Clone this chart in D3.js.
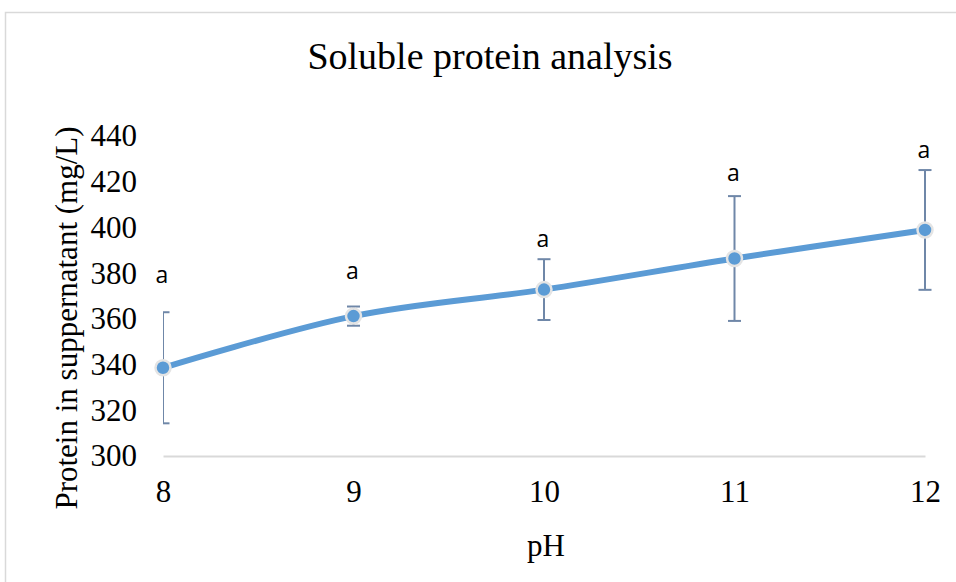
<!DOCTYPE html>
<html>
<head>
<meta charset="utf-8">
<script src="https://cdn.jsdelivr.net/npm/d3@7"></script>
<style>
  body { margin: 0; background: #fff; }
</style>
</head>
<body>
<script>
var w = 956;
var h = 582;

// values
var phValues = [8, 9, 10, 11, 12];
var proteinMeans = [338.6, 361.2, 372.8, 386.4, 398.9];
var proteinErrors = [24.3, 4.2, 13.3, 27.3, 26.2];
var groupLetters = ["a", "a", "a", "a", "a"];
var letterLevels = [375.7, 377.3, 391.3, 420.4, 430.2];
var yTicks = [300, 320, 340, 360, 380, 400, 420, 440];

var data = phValues.map(function (p, i) {
  return { ph: p, mean: proteinMeans[i], err: proteinErrors[i], letter: groupLetters[i], lev: letterLevels[i] };
});

var plot = { left: 163, right: 925, top: 136, bottom: 456 };

var x = d3.scaleLinear().domain([8, 12]).range([plot.left, plot.right]);
var y = d3.scaleLinear().domain([300, 440]).range([plot.bottom, plot.top]);

var svg = d3.select("body").append("svg")
  .attr("width", w)
  .attr("height", h);

// chart border
svg.append("rect")
  .attr("x", 5.5).attr("y", 12.5)
  .attr("width", 1000).attr("height", 1000)
  .attr("fill", "none")
  .attr("stroke", "#d9d9d9")
  .attr("stroke-width", 1.5);

svg.append("defs").append("clipPath").attr("id", "plotclip")
  .append("rect")
  .attr("x", plot.left).attr("y", 0)
  .attr("width", plot.right - plot.left + 40).attr("height", h);

// title
svg.append("text")
  .attr("x", 490).attr("y", 69)
  .attr("text-anchor", "middle")
  .style("font-family", "'Liberation Serif', 'Times New Roman', serif")
  .style("font-size", "38px")
  .text("Soluble protein analysis");

// x axis
var xAxis = svg.append("g")
  .attr("transform", "translate(0," + plot.bottom + ")")
  .call(d3.axisBottom(x).tickValues(phValues).tickSize(0).tickPadding(24).tickFormat(d3.format("d")));
xAxis.select(".domain").attr("stroke", "#d9d9d9").attr("stroke-width", 2);
xAxis.selectAll("text")
  .attr("fill", "#000")
  .style("font-family", "'Liberation Serif', 'Times New Roman', serif")
  .style("font-size", "31px");

// y axis
var yAxis = svg.append("g")
  .attr("transform", "translate(" + (plot.left - 26) + ",0)")
  .call(d3.axisLeft(y).tickValues(yTicks).tickSize(0).tickPadding(0));
yAxis.select(".domain").remove();
yAxis.selectAll("text")
  .attr("fill", "#000")
  .style("font-family", "'Liberation Serif', 'Times New Roman', serif")
  .style("font-size", "31px");

// axis titles
svg.append("text")
  .attr("x", 546).attr("y", 556)
  .attr("text-anchor", "middle")
  .style("font-family", "'Liberation Serif', 'Times New Roman', serif")
  .style("font-size", "31px")
  .text("pH");

svg.append("text")
  .attr("transform", "translate(77," + ((plot.top + plot.bottom) / 2 + 22) + ") rotate(-90)")
  .attr("text-anchor", "middle")
  .style("font-family", "'Liberation Serif', 'Times New Roman', serif")
  .style("font-size", "31px")
  .text("Protein in suppernatant (mg/L)");

// error bars
var eb = svg.append("g").attr("clip-path", "url(#plotclip)");
var ebColor = "#6f87a8";
data.forEach(function (d) {
  eb.append("line")
    .attr("x1", x(d.ph)).attr("x2", x(d.ph))
    .attr("y1", y(d.mean + d.err)).attr("y2", y(d.mean - d.err))
    .attr("stroke", ebColor).attr("stroke-width", 2);
  [d.mean + d.err, d.mean - d.err].forEach(function (v) {
    eb.append("line")
      .attr("x1", x(d.ph) - 6.5).attr("x2", x(d.ph) + 6.5)
      .attr("y1", y(v)).attr("y2", y(v))
      .attr("stroke", ebColor).attr("stroke-width", 2);
  });
});

// smoothed line
var line = d3.line()
  .x(function (d) { return x(d.ph); })
  .y(function (d) { return y(d.mean); })
  .curve(d3.curveCardinal.tension(0));

svg.append("path")
  .datum(data)
  .attr("d", line)
  .attr("fill", "none")
  .attr("stroke", "#5b9bd5")
  .attr("stroke-width", 6)
  .attr("stroke-linecap", "round");

// markers
svg.selectAll("circle.pt")
  .data(data)
  .enter().append("circle")
  .attr("class", "pt")
  .attr("cx", function (d) { return x(d.ph); })
  .attr("cy", function (d) { return y(d.mean); })
  .attr("r", 7.5)
  .attr("fill", "#5b9bd5")
  .attr("stroke", "#e4e4e4")
  .attr("stroke-width", 2.5);

// significance letters
svg.selectAll("text.letter")
  .data(data)
  .enter().append("text")
  .attr("class", "letter")
  .attr("x", function (d) { return x(d.ph) - 1; })
  .attr("y", function (d) { return y(d.lev); })
  .attr("text-anchor", "middle")
  .style("font-family", "'Open Sans', 'Noto Sans', sans-serif")
  .style("font-size", "23px")
  .text(function (d) { return d.letter; });
</script>
</body>
</html>
